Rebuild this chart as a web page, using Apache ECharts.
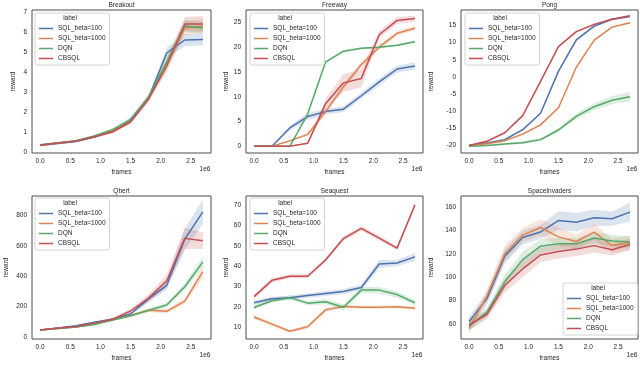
<!DOCTYPE html>
<html>
<head>
<meta charset="utf-8">
<script src="https://cdn.jsdelivr.net/npm/echarts@6/dist/echarts.min.js"></script>
<style>
  html, body { margin: 0; padding: 0; background: #fff; }
  #chart { width: 640px; height: 377px; }
</style>
</head>
<body>
<div id="chart"></div>
<script>
// x values in units of 1e6 frames
const frames = [0, 0.3, 0.6, 0.9, 1.2, 1.5, 1.8, 2.1, 2.4, 2.7];
const xTicks = [0, 0.5, 1, 1.5, 2, 2.5];
const labels = ['SQL_beta=100', 'SQL_beta=1000', 'DQN', 'CBSQL'];
const colors = ['#4c72b0', '#dd8452', '#55a868', '#c44e52'];
const games = ['Breakout', 'Freeway', 'Pong', 'Qbert', 'Seaquest', 'SpaceInvaders'];

// mean reward per method (SQL_beta=100, SQL_beta=1000, DQN, CBSQL) and half width of the band
const breakoutMean = [
  [0.33, 0.43, 0.53, 0.75, 1.05, 1.62, 2.7, 4.95, 5.6, 5.62],
  [0.35, 0.45, 0.55, 0.78, 1.05, 1.55, 2.7, 4.4, 6.2, 6.3],
  [0.36, 0.46, 0.56, 0.8, 1.12, 1.6, 2.75, 4.5, 6.3, 6.2],
  [0.35, 0.45, 0.55, 0.76, 1.0, 1.5, 2.65, 4.3, 6.4, 6.4]
];
const breakoutErr = [
  [0.03, 0.03, 0.04, 0.06, 0.08, 0.12, 0.15, 0.25, 0.3, 0.3],
  [0.03, 0.03, 0.04, 0.06, 0.08, 0.1, 0.15, 0.3, 0.35, 0.35],
  [0.03, 0.03, 0.04, 0.06, 0.08, 0.1, 0.15, 0.3, 0.3, 0.3],
  [0.03, 0.03, 0.04, 0.06, 0.08, 0.1, 0.15, 0.3, 0.35, 0.4]
];
const freewayMean = [
  [0, 0, 3.7, 6.0, 7.0, 7.5, 10.2, 13.0, 15.6, 16.2],
  [0, 0, 1.1, 2.4, 7.0, 12.0, 16.5, 20.0, 22.8, 23.8],
  [0, 0, 0, 6.5, 17.0, 19.2, 19.8, 20.0, 20.4, 21.1],
  [0, 0, 0, 0.6, 8.6, 12.8, 13.7, 22.5, 25.4, 25.8]
];
const freewayErr = [
  [0, 0, 0.5, 0.7, 0.6, 0.6, 0.6, 0.7, 0.7, 0.7],
  [0, 0, 0.2, 0.3, 0.6, 0.6, 0.6, 0.5, 0.5, 0.5],
  [0, 0, 0, 0.2, 0.2, 0.2, 0.2, 0.2, 0.2, 0.2],
  [0, 0, 0, 0.2, 1.0, 1.8, 1.8, 0.8, 0.7, 0.6]
];
const pongMean = [
  [-20, -19.3, -18.3, -15.4, -10.6, 1.6, 10.8, 14.8, 16.8, 17.6],
  [-20, -19.5, -18.6, -16.7, -14.0, -9.0, 2.8, 10.7, 14.5, 15.8],
  [-20.2, -20, -19.6, -19.2, -18.3, -15.5, -11.5, -8.7, -6.8, -5.8],
  [-20, -18.8, -16.3, -11.3, -1.3, 8.8, 13.2, 15.3, 16.8, 17.8]
];
const pongErr = [
  [0.3, 0.3, 0.3, 0.3, 0.3, 0.3, 0.3, 0.3, 0.3, 0.3],
  [0.3, 0.3, 0.3, 0.3, 0.3, 0.3, 0.3, 0.3, 0.3, 0.3],
  [0.2, 0.2, 0.3, 0.4, 0.4, 0.6, 0.9, 1.0, 1.2, 1.4],
  [0.3, 0.3, 0.3, 0.3, 0.3, 0.3, 0.3, 0.3, 0.3, 0.3]
];
const qbertMean = [
  [45, 58, 72, 95, 115, 150, 250, 340, 645, 825],
  [45, 55, 65, 85, 110, 140, 175, 168, 235, 430],
  [45, 55, 65, 80, 110, 138, 175, 210, 330, 495],
  [45, 57, 68, 90, 115, 170, 255, 370, 650, 635]
];
const qbertErr = [
  [3, 4, 5, 7, 8, 10, 20, 30, 70, 80],
  [3, 3, 4, 5, 6, 8, 12, 15, 20, 40],
  [3, 3, 4, 5, 6, 8, 12, 15, 25, 35],
  [3, 4, 5, 7, 10, 15, 25, 40, 70, 55]
];
const seaquestMean = [
  [22, 24, 24.5, 25.5, 26.5, 27.5, 29.5, 41, 41.5, 44.5],
  [15, 11.5, 8, 10.2, 18.5, 20.2, 19.8, 19.8, 20, 19.3],
  [19.7, 23, 24.5, 21.8, 22.5, 19.8, 28.2, 28.2, 26, 22],
  [25, 33, 35, 35, 43, 53.5, 58.5, 53.7, 48.8, 70]
];
const seaquestErr = [
  [1.2, 1, 1, 1.2, 1.2, 1.2, 1.5, 2, 1.5, 2],
  [1, 1, 0.8, 1, 1, 0.8, 0.8, 0.8, 0.8, 0.8],
  [1, 1, 1, 1, 1.2, 1.5, 1.5, 1.5, 1.5, 1.2],
  [1, 1.2, 1, 1, 1, 1.2, 1.2, 1.2, 1, 1.5]
];
const spaceMean = [
  [62, 81.6, 118, 134, 138.7, 148.5, 147, 150.8, 150, 155.7],
  [56, 84, 120, 136, 142.5, 134.5, 130.5, 138.5, 127, 129.5],
  [58, 70, 96, 115, 126.5, 128.5, 128.5, 133.5, 131, 130],
  [59, 68, 93, 107, 119, 122, 124, 127, 123.5, 128]
];
const spaceErr = [
  [4, 5, 6, 6, 6, 8, 8, 7, 6, 8],
  [4, 6, 7, 6, 7, 8, 6, 7, 6, 6],
  [4, 4, 6, 7, 6, 5, 5, 5, 5, 5],
  [4, 4, 6, 7, 6, 6, 6, 6, 5, 5]
];

// y tick labels per game
const breakoutTicks = [0, 1, 2, 3, 4, 5, 6, 7];
const freewayTicks = [0, 5, 10, 15, 20, 25];
const pongTicks = [-20, -15, -10, -5, 0, 5, 10, 15];
const qbertTicks = [0, 200, 400, 600, 800];
const seaquestTicks = [10, 20, 30, 40, 50, 60, 70];
const spaceTicks = [60, 80, 100, 120, 140, 160];

const means = [breakoutMean, freewayMean, pongMean, qbertMean, seaquestMean, spaceMean];
const errs = [breakoutErr, freewayErr, pongErr, qbertErr, seaquestErr, spaceErr];
const yTicks = [breakoutTicks, freewayTicks, pongTicks, qbertTicks, seaquestTicks, spaceTicks];
const yRanges = [[-0.05, 7.1], [-1.35, 27.5], [-22.2, 19.5], [-15, 930], [4.2, 74.4], [47, 169.5]];
const yNameGap = [15, 16, 26, 22, 15, 26];

// layout
const lefts = [32, 246, 461];
const widths = [179, 177, 177];
const tops = [10, 196];
const plotH = 143;
const legendPos = [[35, 13], [250, 13], [465, 13], [35, 198], [250, 198], [563, 283]];

const font = '"Liberation Sans", Arial, sans-serif';
const textColor = '#262626';
const fs = 6.5;

const chart = echarts.init(document.getElementById('chart'));

const grids = [], xAxes = [], yAxes = [], series = [], legends = [], texts = [];

games.forEach((game, gi) => {
  const col = gi % 3, row = Math.floor(gi / 3);
  const left = lefts[col], top = tops[row], w = widths[col];
  grids.push({
    left: left, top: top, width: w, height: plotH,
    show: true, borderColor: '#4d4d4d', borderWidth: 1, backgroundColor: '#fff'
  });
  xAxes.push({
    type: 'value', gridIndex: gi, min: -0.135, max: 2.835,
    name: 'frames', nameLocation: 'middle', nameGap: 16,
    nameTextStyle: { fontSize: fs, color: textColor, fontFamily: font },
    axisLine: { show: false }, axisTick: { show: false }, splitLine: { show: false },
    axisLabel: {
      customValues: xTicks, margin: 5, fontSize: fs, color: textColor, fontFamily: font,
      formatter: v => v.toFixed(1)
    }
  });
  yAxes.push({
    type: 'value', gridIndex: gi, min: yRanges[gi][0], max: yRanges[gi][1],
    name: 'reward', nameLocation: 'middle', nameGap: yNameGap[gi],
    nameTextStyle: { fontSize: fs, color: textColor, fontFamily: font },
    axisLine: { show: false }, axisTick: { show: false }, splitLine: { show: false },
    axisLabel: { customValues: yTicks[gi], margin: 5, fontSize: fs, color: textColor, fontFamily: font }
  });

  labels.forEach((name, k) => {
    const m = means[gi][k], e = errs[gi][k];
    // shaded band between mean-err and mean+err
    series.push({
      type: 'custom', xAxisIndex: gi, yAxisIndex: gi, silent: true, z: 2,
      data: frames.map((x, i) => [x, m[i] - e[i], m[i] + e[i]]),
      renderItem: (params, api) => {
        if (params.dataIndex !== 0) return null;
        const up = frames.map((x, i) => api.coord([x, m[i] + e[i]]));
        const lo = frames.map((x, i) => api.coord([x, m[i] - e[i]])).reverse();
        return {
          type: 'polygon', shape: { points: up.concat(lo) },
          style: { fill: colors[k], opacity: 0.2 }
        };
      }
    });
    series.push({
      type: 'line', name: name, xAxisIndex: gi, yAxisIndex: gi,
      data: frames.map((x, i) => [x, m[i]]),
      symbol: 'none', z: 3,
      lineStyle: { color: colors[k], width: 1.5 },
      itemStyle: { color: colors[k] }
    });
  });

  legends.push({
    data: labels, orient: 'vertical', left: legendPos[gi][0], top: legendPos[gi][1],
    icon: 'rect', itemWidth: 14, itemHeight: 1.5, itemGap: 3, selectedMode: false,
    padding: [12, 4, 3, 4],
    backgroundColor: 'rgba(255,255,255,0.8)', borderColor: '#d4d4d4', borderWidth: 1, borderRadius: 2,
    textStyle: { fontSize: fs, color: textColor, fontFamily: font }
  });

  // subplot title, legend heading and x offset label
  texts.push({
    type: 'text', z: 100, x: left + w / 2, y: top - 8,
    style: { text: game, textAlign: 'center', fontSize: fs, fill: textColor, fontFamily: font }
  });
  texts.push({
    type: 'text', z: 100, x: legendPos[gi][0] + 35, y: legendPos[gi][1] + 2,
    style: { text: 'label', textAlign: 'center', fontSize: fs, fill: textColor, fontFamily: font }
  });
  texts.push({
    type: 'text', z: 100, x: left + w - 6, y: top + plotH + 13,
    style: { text: '1e6', textAlign: 'center', fontSize: fs, fill: textColor, fontFamily: font }
  });
});

chart.setOption({
  animation: false,
  backgroundColor: '#fff',
  grid: grids,
  xAxis: xAxes,
  yAxis: yAxes,
  legend: legends,
  series: series,
  graphic: { elements: texts }
});
</script>
</body>
</html>
